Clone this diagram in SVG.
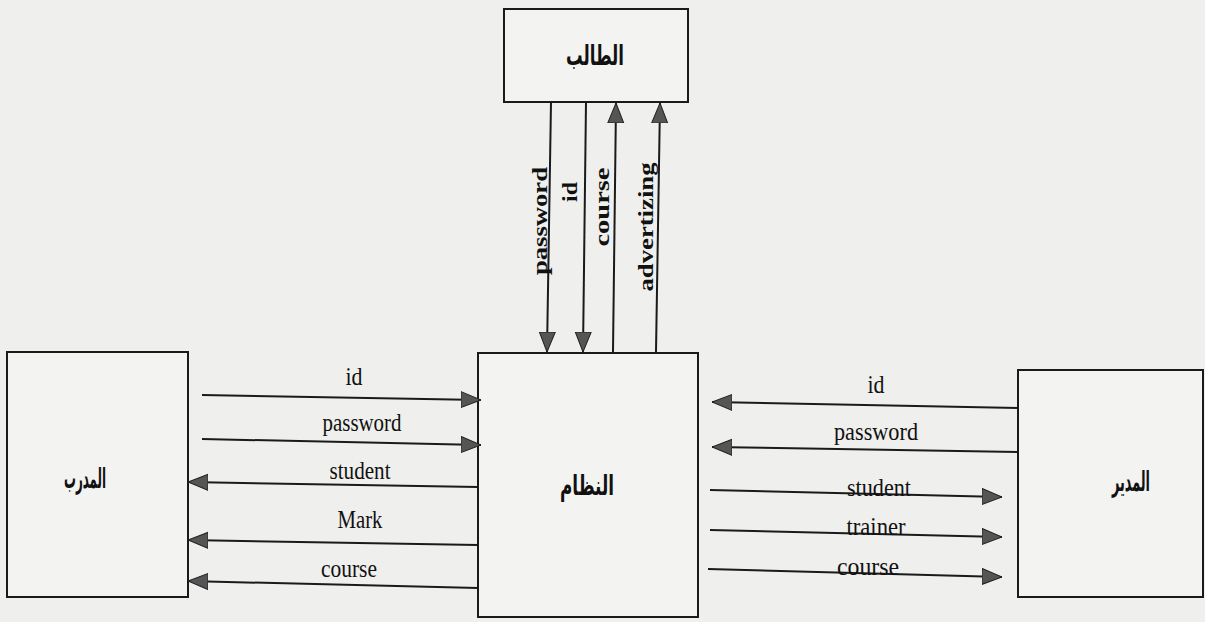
<svg xmlns="http://www.w3.org/2000/svg" width="1205" height="622" viewBox="0 0 1205 622">
  <style>
    .box { fill: #f3f3f1; stroke: #1a1a1a; stroke-width: 2; }
    .ar { font-family: "DejaVu Sans", "Noto Sans", sans-serif; font-weight: bold; font-size: 28px; fill: #111; text-anchor: middle; }
    .flow { stroke: #1a1a1a; stroke-width: 2; fill: none; marker-end: url(#head); }
    .lbl { font-family: "Liberation Serif", "Times New Roman", serif; font-size: 25px; fill: #111; text-anchor: middle; }
    .vlbl { font-family: "Liberation Serif", "Times New Roman", serif; font-size: 21px; font-weight: bold; fill: #111; text-anchor: middle; }
  </style>
  <defs>
    <marker id="head" viewBox="0 0 20 18" refX="20" refY="9" markerWidth="20" markerHeight="18" markerUnits="userSpaceOnUse" orient="auto">
      <path d="M0,1 L20,9 L0,17 Z" fill="#555" stroke="#222" stroke-width="1"/>
    </marker>
  </defs>

  <rect width="1205" height="622" fill="#efefed"/>

  <!-- external entity: student -->
  <g id="student">
    <rect class="box" x="504" y="9" width="184" height="93"/>
    <text class="ar" x="595" y="65" textLength="58" lengthAdjust="spacingAndGlyphs">الطالب</text>
  </g>

  <!-- external entity: trainer -->
  <g id="trainer">
    <rect class="box" x="7" y="352" width="181" height="245"/>
    <text class="ar" x="85" y="488" textLength="42" lengthAdjust="spacingAndGlyphs">المدرب</text>
  </g>

  <!-- the system process -->
  <g id="system">
    <rect class="box" x="478" y="353" width="220" height="264"/>
    <text class="ar" x="587" y="495" textLength="54" lengthAdjust="spacingAndGlyphs">النظام</text>
  </g>

  <!-- external entity: manager -->
  <g id="manager">
    <rect class="box" x="1018" y="370" width="185" height="227"/>
    <text class="ar" x="1131" y="491" textLength="38" lengthAdjust="spacingAndGlyphs">المدير</text>
  </g>

  <!-- data flows -->
  <g id="flows">
    <!-- student <-> system -->
    <line class="flow" x1="551" y1="102" x2="547" y2="352"/>
    <line class="flow" x1="586" y1="102" x2="583" y2="352"/>
    <line class="flow" x1="613" y1="352" x2="616" y2="103"/>
    <line class="flow" x1="656" y1="352" x2="660" y2="103"/>
    <text class="vlbl" transform="translate(547,221) rotate(-90)" textLength="108" lengthAdjust="spacingAndGlyphs">password</text>
    <text class="vlbl" transform="translate(577,192) rotate(-90)" textLength="20" lengthAdjust="spacingAndGlyphs">id</text>
    <text class="vlbl" transform="translate(609,207) rotate(-90)" textLength="79" lengthAdjust="spacingAndGlyphs">course</text>
    <text class="vlbl" transform="translate(653,227) rotate(-90)" textLength="129" lengthAdjust="spacingAndGlyphs">advertizing</text>

    <!-- trainer <-> system -->
    <line class="flow" x1="202" y1="395" x2="481" y2="400"/>
    <line class="flow" x1="202" y1="439" x2="481" y2="445"/>
    <line class="flow" x1="478" y1="487" x2="188" y2="482"/>
    <line class="flow" x1="478" y1="545" x2="188" y2="540"/>
    <line class="flow" x1="478" y1="588" x2="188" y2="581"/>
    <text class="lbl" x="354" y="385" textLength="17" lengthAdjust="spacingAndGlyphs">id</text>
    <text class="lbl" x="362" y="431" textLength="79" lengthAdjust="spacingAndGlyphs">password</text>
    <text class="lbl" x="360" y="479" textLength="61" lengthAdjust="spacingAndGlyphs">student</text>
    <text class="lbl" x="360" y="528" textLength="45" lengthAdjust="spacingAndGlyphs">Mark</text>
    <text class="lbl" x="349" y="577" textLength="56" lengthAdjust="spacingAndGlyphs">course</text>

    <!-- manager <-> system -->
    <line class="flow" x1="1018" y1="408" x2="712" y2="402"/>
    <line class="flow" x1="1018" y1="452" x2="712" y2="447"/>
    <line class="flow" x1="710" y1="490" x2="1002" y2="497"/>
    <line class="flow" x1="710" y1="530" x2="1002" y2="537"/>
    <line class="flow" x1="708" y1="569" x2="1002" y2="577"/>
    <text class="lbl" x="876" y="393" textLength="17" lengthAdjust="spacingAndGlyphs">id</text>
    <text class="lbl" x="876" y="440" textLength="84" lengthAdjust="spacingAndGlyphs">password</text>
    <text class="lbl" x="879" y="496" textLength="64" lengthAdjust="spacingAndGlyphs">student</text>
    <text class="lbl" x="876" y="535" textLength="59" lengthAdjust="spacingAndGlyphs">trainer</text>
    <text class="lbl" x="868" y="575" textLength="62" lengthAdjust="spacingAndGlyphs">course</text>
  </g>
</svg>
